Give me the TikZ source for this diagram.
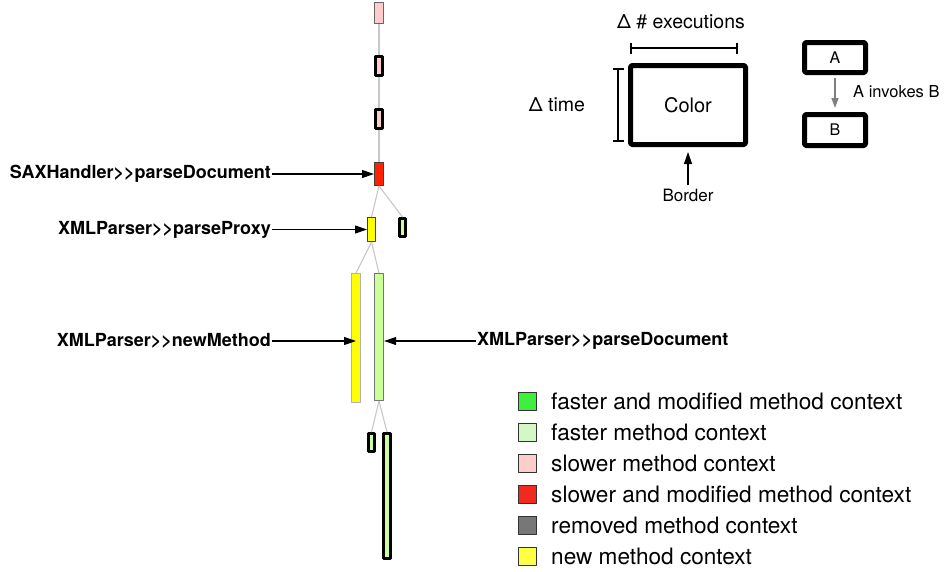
\documentclass[tikz,border=0pt]{standalone}
\usepackage{fontspec}
\setmainfont{TeX Gyre Heros}
\usetikzlibrary{arrows.meta}
\definecolor{slowC}{HTML}{FFCCCC}
\definecolor{slowModC}{HTML}{FF2200}
\definecolor{newC}{HTML}{FFFF00}
\definecolor{fastC}{HTML}{CCFF99}
\definecolor{legFastModC}{HTML}{3CF03C}
\definecolor{legFastC}{HTML}{D4F8C4}
\definecolor{legSlowC}{HTML}{FFCCCC}
\definecolor{legSlowModC}{HTML}{F02A1E}
\definecolor{legRemC}{HTML}{777777}
\definecolor{legNewC}{HTML}{FFFF44}
\tikzset{
	ctx/.style={rectangle, fill=#1, draw=black!75, line width=0.7pt, inner sep=0pt, minimum width=9.3pt},
	chg/.style={draw=black, line width=2.6pt, minimum width=7.4pt},
	call/.style={draw=black!22, line width=1.1pt},
	lbl/.style={font=\bfseries\fontsize{18}{21}\selectfont, inner sep=1pt},
	ptr/.style={-{Triangle[length=12pt,width=8pt]}, line width=1.1pt},
	keybox/.style={draw=black, line width=5pt, rounded corners=1.5pt, inner sep=0pt},
	dim/.style={{Bar[width=11pt]}-{Bar[width=11pt]}, line width=1.8pt},
	legsq/.style={fill=#1, draw=black!80, line width=0.9pt, minimum size=18pt, inner sep=0pt},
	legtxt/.style={anchor=west, inner sep=0pt, font=\fontsize{22.6}{25}\selectfont}
}
\begin{document}
\begin{tikzpicture}[x=1pt, y=-1pt, line join=round]
	\useasboundingbox (0,0) rectangle (949,571);
	% call tree
	\node[ctx=slowC, draw=black!60, minimum height=21.3pt] (p1) at (379,13) {};
	\node[ctx=slowC, chg, minimum height=19.4pt] (p2) at (379,66) {};
	\node[ctx=slowC, chg, minimum height=19.4pt] (p3) at (379,119) {};
	\node[ctx=slowModC, minimum height=23.3pt] (r1) at (379,174) {};
	\node[ctx=newC, minimum width=8.3pt, minimum height=24.3pt] (y1) at (371.5,229.5) {};
	\node[ctx=fastC, chg, minimum width=6.4pt, minimum height=18.4pt] (g1) at (402.5,227.5) {};
	\node[ctx=newC, draw=black!30, minimum height=129.3pt] (y2) at (356,338) {};
	\node[ctx=fastC, draw=black!55, line width=1pt, minimum height=127pt] (g2) at (379,337) {};
	\node[ctx=fastC, chg, minimum width=6.4pt, minimum height=18.4pt] (g3) at (371.5,442.5) {};
	\node[ctx=fastC, chg, minimum height=125.4pt] (g4) at (387,496) {};
	\draw[call] (p1.south) -- (p2.north);
	\draw[call] (p2.south) -- (p3.north);
	\draw[call] (p3.south) -- (r1.north);
	\draw[call] (r1.south) -- (y1.north);
	\draw[call] (r1.south) -- (g1.north);
	\draw[call] (y1.south) -- (y2.north);
	\draw[call] (y1.south) -- (g2.north);
	\draw[call] (g2.south) -- (g3.north);
	\draw[call] (g2.south) -- (g4.north);
	% method labels
	\node[lbl, anchor=east] (lsax) at (272,174) {SAXHandler>{}>parseDocument};
	\node[lbl, anchor=east] (lproxy) at (272,229.5) {XMLParser>{}>parseProxy};
	\node[lbl, anchor=east] (lnew) at (272,341) {XMLParser>{}>newMethod};
	\node[lbl, anchor=west] (lparse) at (476,341) {XMLParser>{}>parseDocument};
	\draw[ptr] (lsax.east) -- (r1.west);
	\draw[ptr] (lproxy.east) -- (y1.west);
	\draw[ptr] (lnew.east) -- (lnew.east -| y2.center);
	\draw[ptr] (lparse.west) -- (lparse.west -| g2.east);
	% key
	\node[keybox, minimum width=115pt, minimum height=79pt, font=\fontsize{20}{24}\selectfont] (colorbox) at (688,105) {Color};
	\node[font=\fontsize{19.5}{22}\selectfont] (dexec) at (681,22) {Δ \# executions};
	\coordinate (ex1) at (630,48);
	\coordinate (ex2) at (738,48);
	\draw[dim] (ex1) -- (ex2);
	\coordinate (tm1) at (618,68);
	\coordinate (tm2) at (618,142);
	\draw[dim] (tm1) -- (tm2);
	\node[font=\fontsize{19.5}{22}\selectfont] (dtime) at (557,105) {Δ time};
	\node[font=\fontsize{17}{20}\selectfont] (border) at (688,195) {Border};
	\draw[ptr, shorten >=5pt] (border) -- (colorbox.south);
	\node[keybox, minimum width=61pt, minimum height=30pt, font=\fontsize{16}{19}\selectfont] (boxA) at (835,57.5) {A};
	\node[keybox, minimum width=61pt, minimum height=31pt, font=\fontsize{16}{19}\selectfont] (boxB) at (835,130) {B};
	\draw[-{Triangle[length=10pt,width=7pt]}, line width=1.5pt, black!50, shorten <=2.5pt, shorten >=4pt] (boxA) -- (boxB);
	\node[anchor=west, inner sep=0pt, font=\fontsize{16.5}{19}\selectfont] (invokes) at (853,92) {A invokes B};
	% legend
	\foreach \c/\t [count=\i] in {legFastModC/faster and modified method context, legFastC/faster method context, legSlowC/slower method context, legSlowModC/slower and modified method context, legRemC/removed method context, legNewC/new method context}
	{
		\node[legsq=\c] (sq\i) at (527.5,{370+31*\i}) {};
		\node[legtxt] (txt\i) at (551,{370+31*\i}) {\t};
	}
\end{tikzpicture}
\end{document}
